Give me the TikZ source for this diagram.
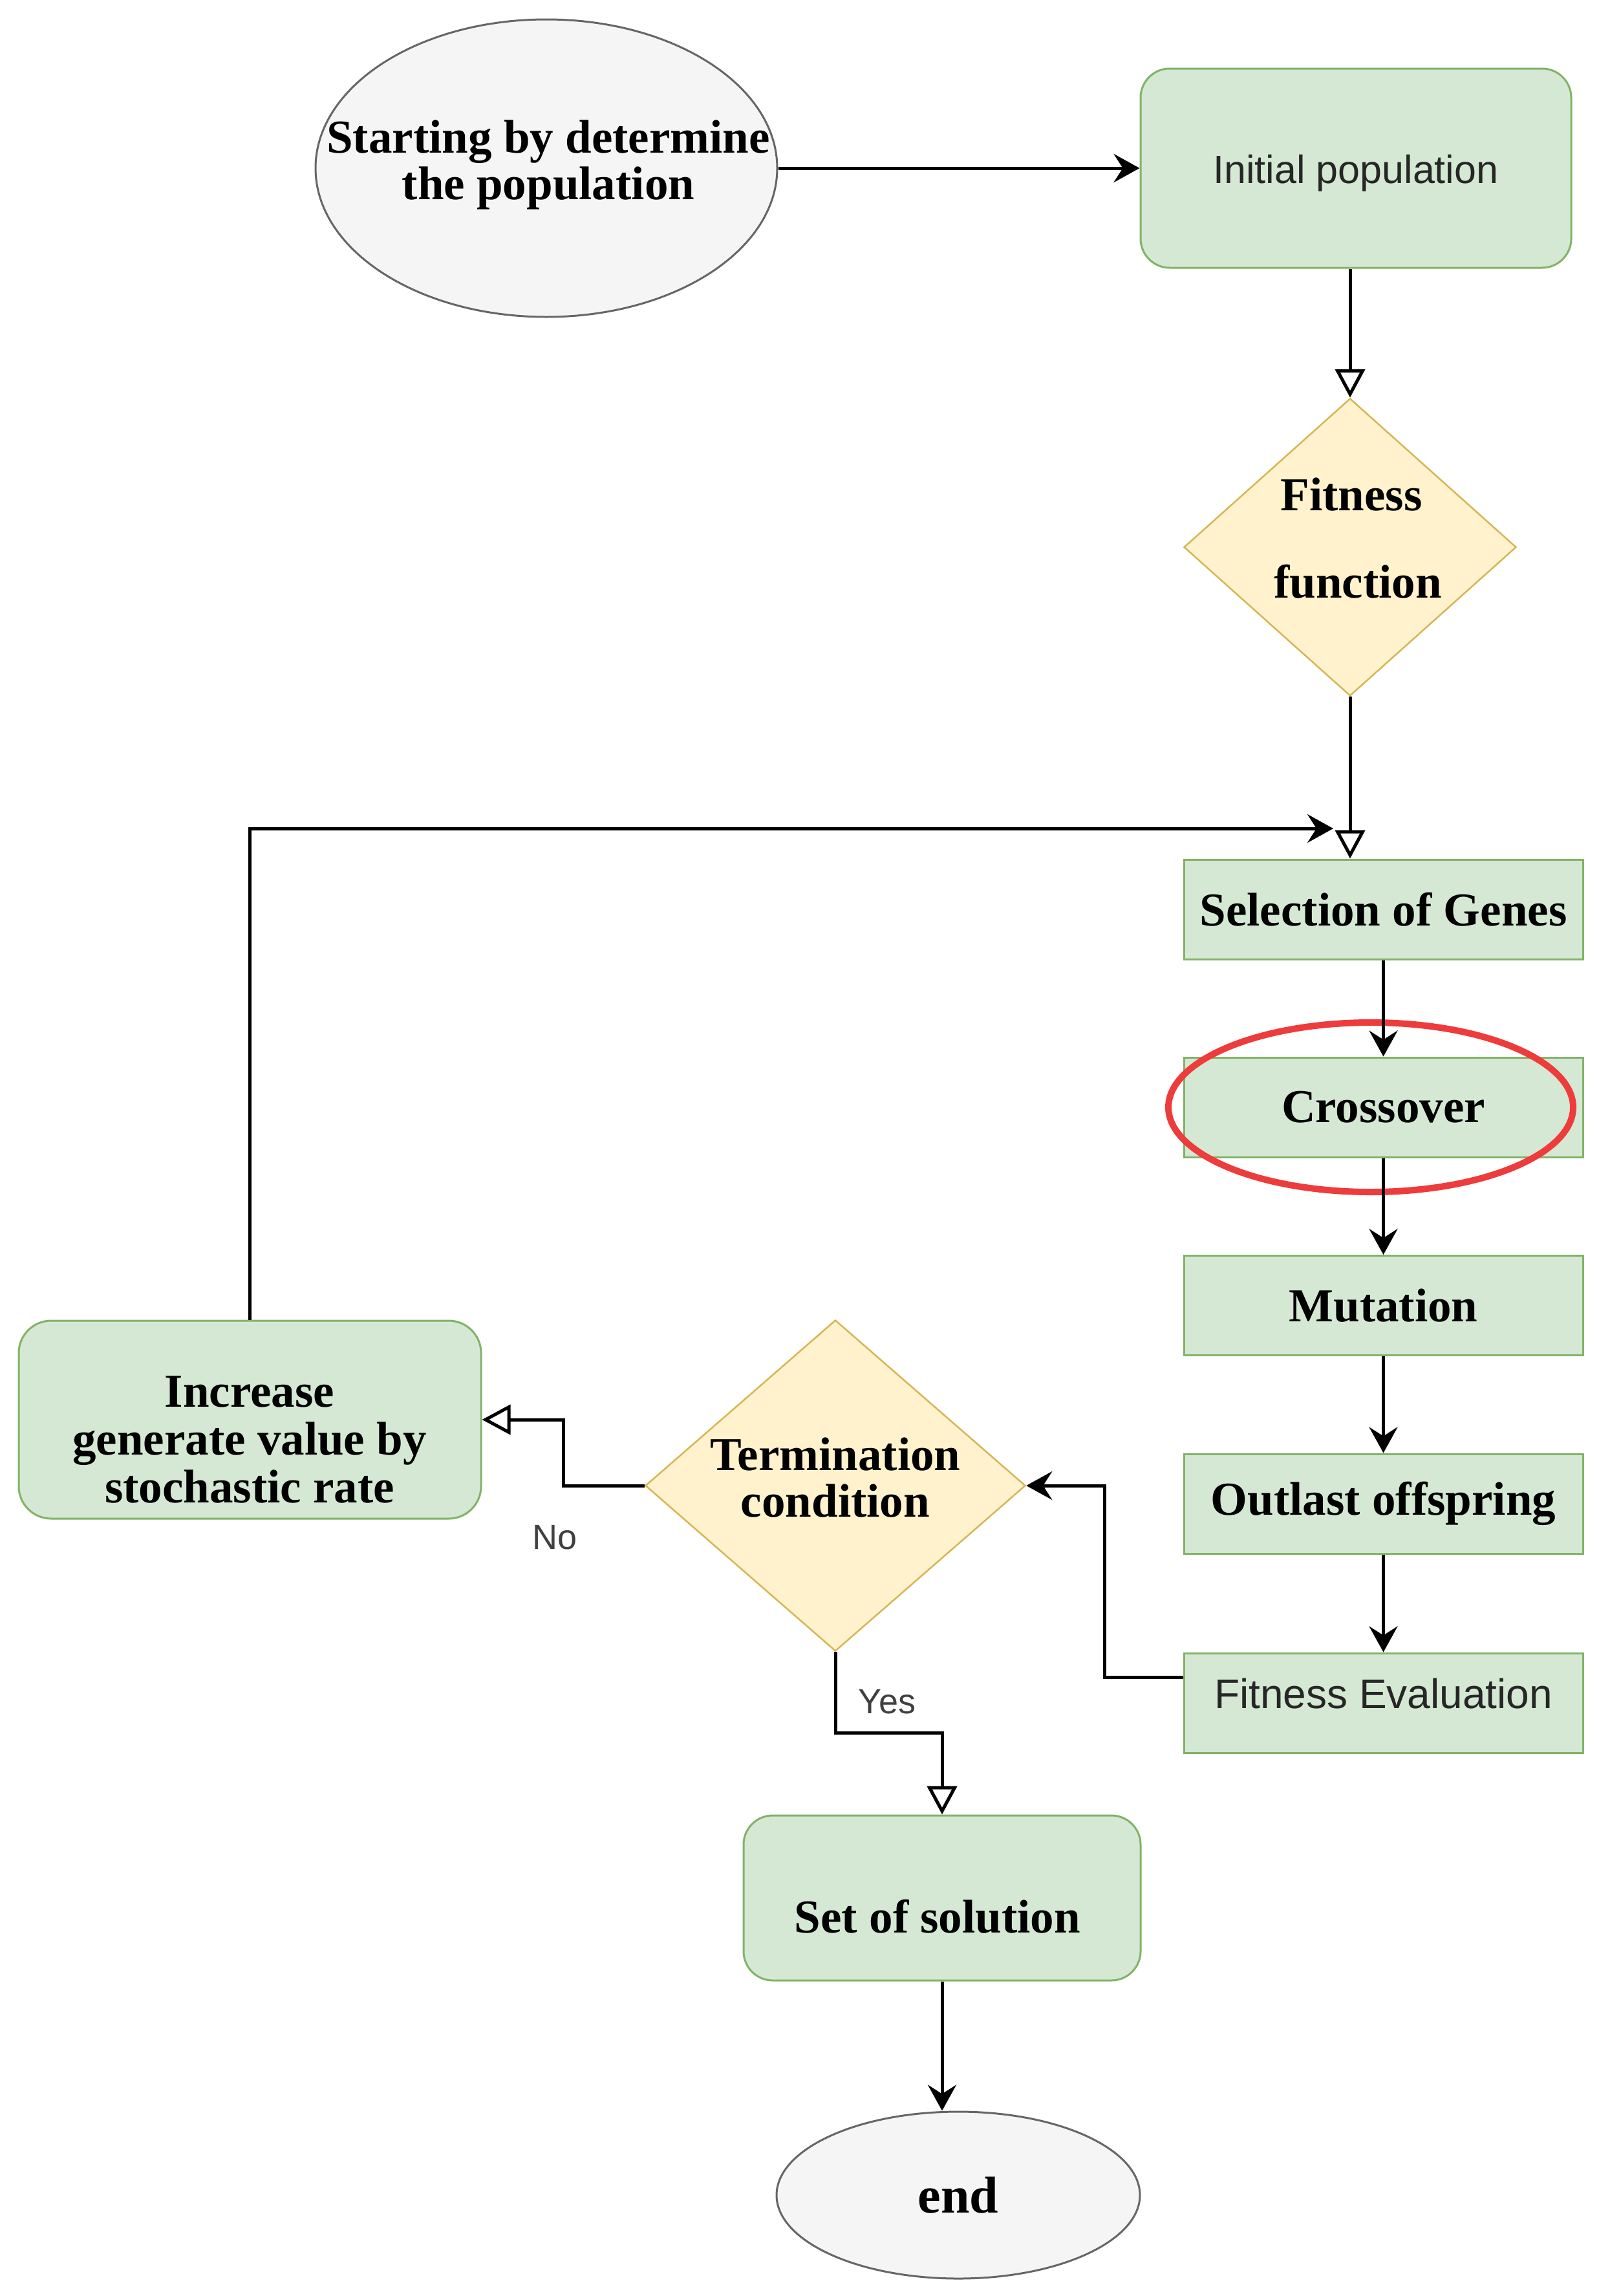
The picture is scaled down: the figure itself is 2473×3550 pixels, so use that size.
\documentclass[tikz,border=0pt]{standalone}
\usepackage{fontspec}
\setmainfont{Liberation Serif}
\newfontfamily\sansf{Liberation Sans}
\usetikzlibrary{shapes.geometric,arrows.meta}
\definecolor{gfill}{HTML}{D5E8D4}
\definecolor{gdraw}{HTML}{82B366}
\definecolor{yfill}{HTML}{FFF2CC}
\definecolor{ydraw}{HTML}{D6B656}
\definecolor{efill}{HTML}{F5F5F5}
\definecolor{edraw}{HTML}{666666}
\definecolor{redc}{HTML}{EE3B3B}
\begin{document}
\begin{tikzpicture}[x=1pt,y=-1pt,
  serif/.style={font=\fontsize{73}{72}\selectfont\bfseries, text=black, align=center},
  sans/.style={font=\sansf\fontsize{61}{70}\selectfont, text=black!85},
  gbox/.style={draw=gdraw, fill=gfill, line width=3pt, inner sep=0pt},
  rbox/.style={gbox, rounded corners=45pt},
  dmd/.style={diamond, draw=ydraw, fill=yfill, line width=2.5pt, inner sep=0pt},
  ell/.style={ellipse, draw=edraw, fill=efill, line width=3pt, inner sep=0pt},
  conn/.style={line width=5pt, black},
  cl/.style={conn, -{Stealth[length=40pt,width=44pt,inset=14pt]}},
  op/.style={conn, -{Triangle[length=44pt,width=46pt,fill=white]}},
  lbl/.style={font=\sansf\fontsize{54}{60}\selectfont, text=black!75},
]
\path[use as bounding box, fill=white] (0,0) rectangle (2473,3550);

% nodes
\node[ell, minimum width=714pt, minimum height=460pt] (start) at (845,260) {};
\node[serif] (starttxt) at (848,255) {Starting by determine\\the population};

\node[rbox, minimum width=666pt, minimum height=308pt, sans, text height=60pt] (init) at (2097,260) {Initial population};

\node[dmd, minimum width=514pt, minimum height=460pt] (fit) at (2088,846) {};
\node[serif] (fittxt1) at (2090,765) {Fitness};
\node[serif] (fittxt2) at (2100,899) {function};

\node[gbox, minimum width=617pt, minimum height=154pt, serif] (sel) at (2139.5,1406) {Selection of Genes};
\node[gbox, minimum width=617pt, minimum height=154pt, serif] (cross) at (2139.5,1712) {Crossover};
\node[gbox, minimum width=617pt, minimum height=154pt, serif] (mut) at (2139.5,2018.5) {Mutation};
\node[gbox, minimum width=617pt, minimum height=154pt, serif] (out) at (2139.5,2325) {Outlast offspring};
\node[gbox, minimum width=617pt, minimum height=154pt, sans, font=\sansf\fontsize{64}{70}\selectfont, text depth=30pt] (feval) at (2139.5,2633) {Fitness Evaluation};

\node[dmd, minimum width=588pt, minimum height=512pt] (term) at (1292,2297) {};
\node[serif] (termtxt) at (1292,2284) {Termination\\condition};

\node[rbox, rounded corners=50pt, minimum width=715pt, minimum height=306pt] (inc) at (386.5,2195) {};
\node[serif, font=\fontsize{73}{74}\selectfont\bfseries] (inctxt) at (386,2226) {Increase\\generate value by\\stochastic rate};

\node[rbox, minimum width=614pt, minimum height=255pt] (sol) at (1457,2934.5) {};
\node[serif] (soltxt) at (1450,2963) {Set of solution};

\node[ell, minimum width=562pt, minimum height=258pt, serif, font=\fontsize{80}{80}\selectfont\bfseries] (endn) at (1482,3394) {end};

% highlight
\node[ellipse, draw=redc, line width=10pt, minimum width=626pt, minimum height=262pt, inner sep=0pt] (hl) at (2120,1712) {};

% labels
\node[lbl] (nolbl) at (858,2377) {No};
\node[lbl] (yeslbl) at (1372,2631) {Yes};

% connectors
\coordinate (loopend) at (2062,1281);
\draw[cl] (start.east) -- (start.east -| init.west);
\draw[op] (init.south -| fit.north) -- (fit.north);
\draw[op] (fit.south) -- (fit.south |- sel.north);
\draw[cl] (sel.south) -- (cross.north);
\draw[cl] (cross.south) -- (mut.north);
\draw[cl] (mut.south) -- (out.north);
\draw[cl] (out.south) -- (feval.north);
\draw[cl] ([yshift=40pt]feval.west) -- ++(-121,0) |- (term.east);
\draw[op] (term.west) -- ++(-125,0) |- (inc.east);
\draw[cl] (inc.north) |- (loopend);
\draw[op] (term.south) -- ++(0,125) -| (sol.north);
\draw[cl] (sol.south) -- (sol.south |- endn.north);
\end{tikzpicture}
\end{document}
